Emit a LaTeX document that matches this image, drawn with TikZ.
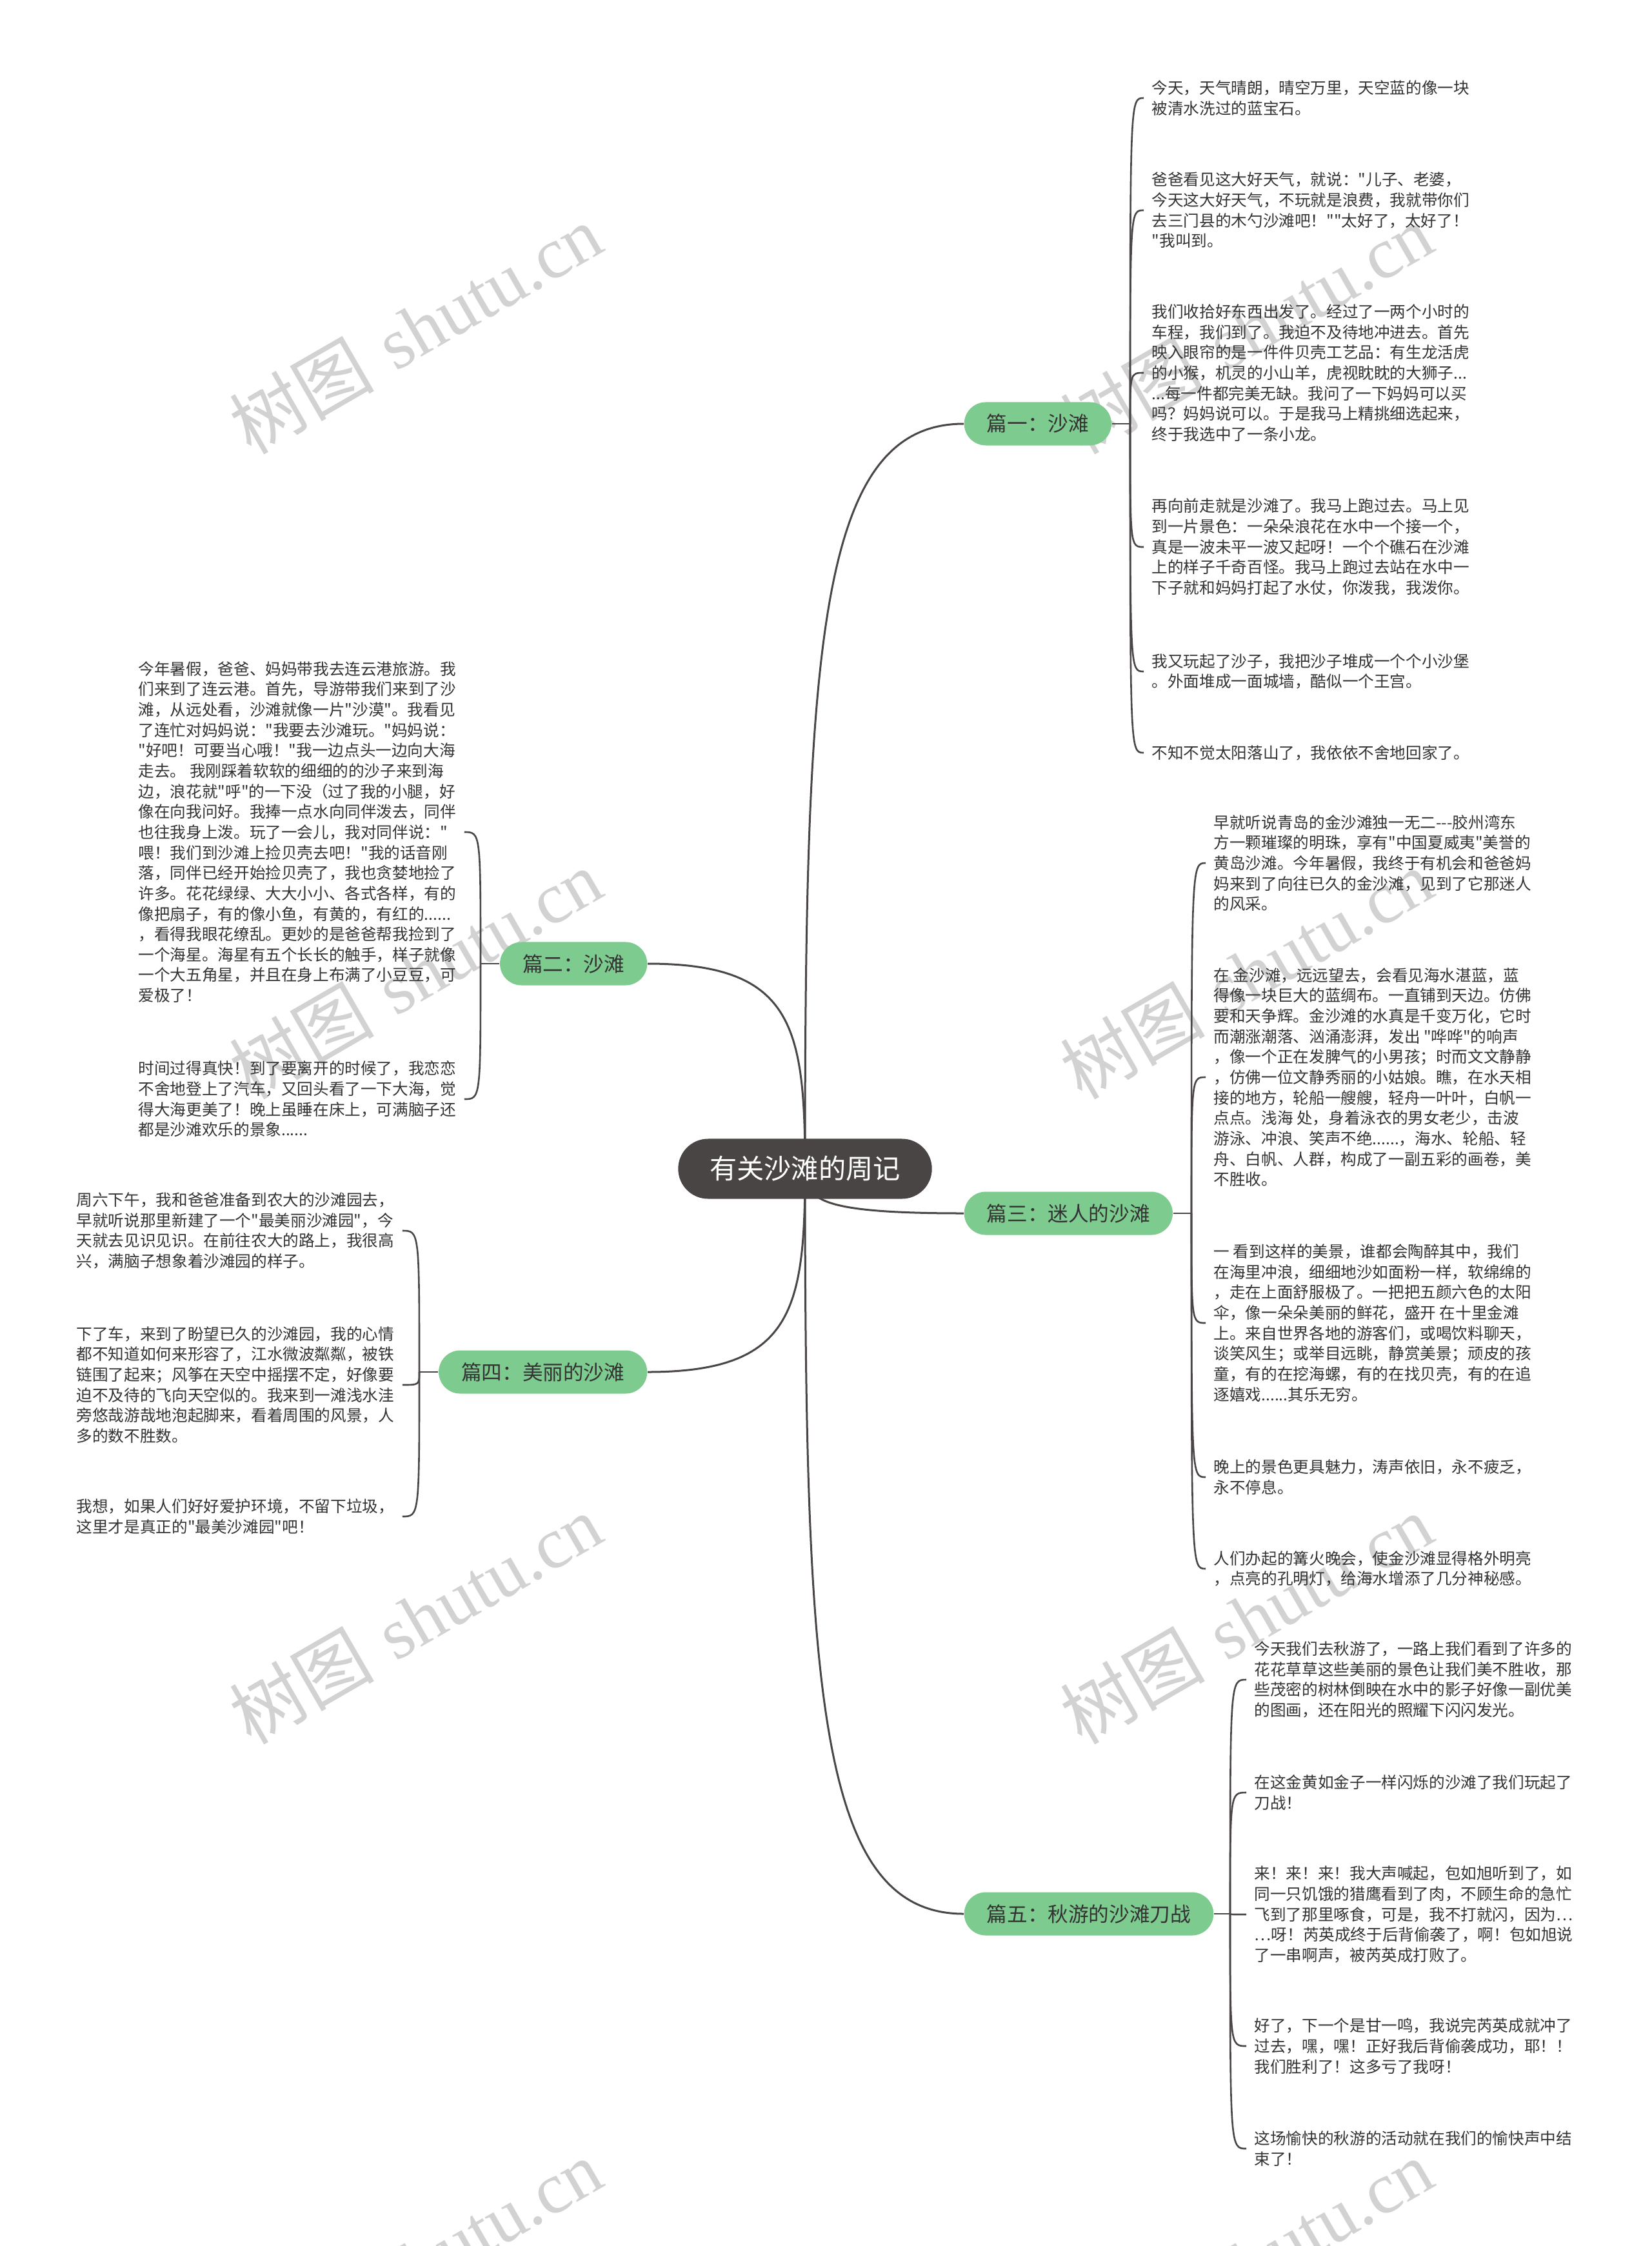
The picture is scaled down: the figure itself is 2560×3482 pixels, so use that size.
\documentclass[tikz,border=0pt]{standalone}
\usepackage{fontspec}
\newfontfamily\cjk{Noto Sans CJK SC}
\newfontfamily\wmserif{Liberation Serif}
\usetikzlibrary{backgrounds}
\definecolor{linegray}{HTML}{4A4646}
\definecolor{rootgray}{HTML}{4A4545}
\definecolor{branchgreen}{HTML}{7ECB8F}
\definecolor{leaftext}{HTML}{333333}
\definecolor{wmgray}{HTML}{D2D2D2}

\begin{document}
\begin{tikzpicture}[x=0.01cm, y=-0.01cm,
  root/.style={fill=rootgray, text=white, rounded corners=0.465cm, minimum height=0.93cm, inner xsep=0.49cm, font=\cjk\fontsize{12pt}{14pt}\selectfont},
  branch/.style={fill=branchgreen, text=leaftext, rounded corners=0.335cm, minimum height=0.67cm, inner xsep=0.35cm, font=\cjk\fontsize{9pt}{11pt}\selectfont},
  leaf/.style={anchor=west, align=left, text=leaftext, inner xsep=0.12cm, inner ysep=0.04cm, font=\cjk\fontsize{7pt}{9pt}\selectfont},
  mainline/.style={draw=linegray, line width=0.03cm},
  leafline/.style={draw=linegray, line width=0.026cm},
  wm/.style={rotate=30, text=wmgray, font=\fontsize{32pt}{36pt}\selectfont}]
\useasboundingbox (0,0) rectangle (2560,3482);

% centre and the five chapters
\node[root] (root) at (1248,1812) {有关沙滩的周记};
\node[branch, anchor=west] (b1) at (1494,657) {篇一：沙滩};
\node[branch, anchor=east] (b2) at (1004,1494) {篇二：沙滩};
\node[branch, anchor=west] (b3) at (1494,1881) {篇三：迷人的沙滩};
\node[branch, anchor=east] (b4) at (1004,2127) {篇四：美丽的沙滩};
\node[branch, anchor=west] (b5) at (1494,2967) {篇五：秋游的沙滩刀战};

% 篇一
\node[leaf] (l11) at (1773,152) {今天，天气晴朗，晴空万里，天空蓝的像一块\\被清水洗过的蓝宝石。};
\node[leaf] (l12) at (1773,326) {爸爸看见这大好天气，就说："儿子、老婆，\\今天这大好天气，不玩就是浪费，我就带你们\\去三门县的木勺沙滩吧！""太好了，太好了！\\"我叫到。};
\node[leaf] (l13) at (1773,578) {我们收拾好东西出发了。经过了一两个小时的\\车程，我们到了。我迫不及待地冲进去。首先\\映入眼帘的是一件件贝壳工艺品：有生龙活虎\\的小猴，机灵的小山羊，虎视眈眈的大狮子...\\...每一件都完美无缺。我问了一下妈妈可以买\\吗？妈妈说可以。于是我马上精挑细选起来，\\终于我选中了一条小龙。};
\node[leaf] (l14) at (1773,848) {再向前走就是沙滩了。我马上跑过去。马上见\\到一片景色：一朵朵浪花在水中一个接一个，\\真是一波未平一波又起呀！一个个礁石在沙滩\\上的样子千奇百怪。我马上跑过去站在水中一\\下子就和妈妈打起了水仗，你泼我，我泼你。};
\node[leaf] (l15) at (1773,1041) {我又玩起了沙子，我把沙子堆成一个个小沙堡\\。外面堆成一面城墙，酷似一个王宫。};
\node[leaf] (l16) at (1773,1167) {不知不觉太阳落山了，我依依不舍地回家了。};

% 篇二
\node[leaf] (l21) at (202,1290) {今年暑假，爸爸、妈妈带我去连云港旅游。我\\们来到了连云港。首先，导游带我们来到了沙\\滩，从远处看，沙滩就像一片"沙漠"。我看见\\了连忙对妈妈说："我要去沙滩玩。"妈妈说：\\"好吧！可要当心哦！"我一边点头一边向大海\\走去。 我刚踩着软软的细细的的沙子来到海\\边，浪花就"呼"的一下没（过了我的小腿，好\\像在向我问好。我捧一点水向同伴泼去，同伴\\也往我身上泼。玩了一会儿，我对同伴说："\\喂！我们到沙滩上捡贝壳去吧！"我的话音刚\\落，同伴已经开始捡贝壳了，我也贪婪地捡了\\许多。花花绿绿、大大小小、各式各样，有的\\像把扇子，有的像小鱼，有黄的，有红的......\\，看得我眼花缭乱。更妙的是爸爸帮我捡到了\\一个海星。海星有五个长长的触手，样子就像\\一个大五角星，并且在身上布满了小豆豆，可\\爱极了！};
\node[leaf] (l22) at (202,1704) {时间过得真快！到了要离开的时候了，我恋恋\\不舍地登上了汽车，又回头看了一下大海，觉\\得大海更美了！晚上虽睡在床上，可满脑子还\\都是沙滩欢乐的景象......};

% 篇三
\node[leaf] (l31) at (1869,1338) {早就听说青岛的金沙滩独一无二---胶州湾东\\方一颗璀璨的明珠，享有"中国夏威夷"美誉的\\黄岛沙滩。今年暑假，我终于有机会和爸爸妈\\妈来到了向往已久的金沙滩，见到了它那迷人\\的风采。};
\node[leaf] (l32) at (1869,1670) {在 金沙滩，远远望去，会看见海水湛蓝，蓝\\得像一块巨大的蓝绸布。一直铺到天边。仿佛\\要和天争辉。金沙滩的水真是千变万化，它时\\而潮涨潮落、汹涌澎湃，发出 "哗哗"的响声\\，像一个正在发脾气的小男孩；时而文文静静\\，仿佛一位文静秀丽的小姑娘。瞧，在水天相\\接的地方，轮船一艘艘，轻舟一叶叶，白帆一\\点点。浅海 处，身着泳衣的男女老少，击波\\游泳、冲浪、笑声不绝......，海水、轮船、轻\\舟、白帆、人群，构成了一副五彩的画卷，美\\不胜收。};
\node[leaf] (l33) at (1869,2051) {一 看到这样的美景，谁都会陶醉其中，我们\\在海里冲浪，细细地沙如面粉一样，软绵绵的\\，走在上面舒服极了。一把把五颜六色的太阳\\伞，像一朵朵美丽的鲜花，盛开 在十里金滩\\上。来自世界各地的游客们，或喝饮料聊天，\\谈笑风生；或举目远眺，静赏美景；顽皮的孩\\童，有的在挖海螺，有的在找贝壳，有的在追\\逐嬉戏......其乐无穷。};
\node[leaf] (l34) at (1869,2290) {晚上的景色更具魅力，涛声依旧，永不疲乏，\\永不停息。};
\node[leaf] (l35) at (1869,2432) {人们办起的篝火晚会，使金沙滩显得格外明亮\\，点亮的孔明灯，给海水增添了几分神秘感。};

% 篇四
\node[leaf] (l41) at (106,1908) {周六下午，我和爸爸准备到农大的沙滩园去，\\早就听说那里新建了一个"最美丽沙滩园"，今\\天就去见识见识。在前往农大的路上，我很高\\兴，满脑子想象着沙滩园的样子。};
\node[leaf] (l42) at (106,2147) {下了车，来到了盼望已久的沙滩园，我的心情\\都不知道如何来形容了，江水微波粼粼，被铁\\链围了起来；风筝在天空中摇摆不定，好像要\\迫不及待的飞向天空似的。我来到一滩浅水洼\\旁悠哉游哉地泡起脚来，看着周围的风景，人\\多的数不胜数。};
\node[leaf] (l43) at (106,2351) {我想，如果人们好好爱护环境，不留下垃圾，\\这里才是真正的"最美沙滩园"吧！};

% 篇五
\node[leaf] (l51) at (1932,2604) {今天我们去秋游了，一路上我们看到了许多的\\花花草草这些美丽的景色让我们美不胜收，那\\些茂密的树林倒映在水中的影子好像一副优美\\的图画，还在阳光的照耀下闪闪发光。};
\node[leaf] (l52) at (1932,2779) {在这金黄如金子一样闪烁的沙滩了我们玩起了\\刀战！};
\node[leaf] (l53) at (1932,2968) {来！来！来！我大声喊起，包如旭听到了，如\\同一只饥饿的猎鹰看到了肉，不顾生命的急忙\\飞到了那里啄食，可是，我不打就闪，因为…\\…呀！芮英成终于后背偷袭了，啊！包如旭说\\了一串啊声，被芮英成打败了。};
\node[leaf] (l54) at (1932,3172) {好了，下一个是甘一鸣，我说完芮英成就冲了\\过去，嘿，嘿！正好我后背偷袭成功，耶！！\\我们胜利了！这多亏了我呀！};
\node[leaf] (l55) at (1932,3331) {这场愉快的秋游的活动就在我们的愉快声中结\\束了！};

\begin{scope}[on background layer]
\clip (0,0) rectangle (2560,3482);
\fill[white] (0,0) rectangle (2560,3482);
% watermark
\node[wm] (wm1) at (644,510) {{\cjk 树图} {\wmserif shutu.cn}};
\node[wm] (wm2) at (1932,510) {{\cjk 树图} {\wmserif shutu.cn}};
\node[wm] (wm3) at (644,1510) {{\cjk 树图} {\wmserif shutu.cn}};
\node[wm] (wm4) at (1932,1510) {{\cjk 树图} {\wmserif shutu.cn}};
\node[wm] (wm5) at (644,2510) {{\cjk 树图} {\wmserif shutu.cn}};
\node[wm] (wm6) at (1932,2510) {{\cjk 树图} {\wmserif shutu.cn}};
\node[wm] (wm7) at (644,3510) {{\cjk 树图} {\wmserif shutu.cn}};
\node[wm] (wm8) at (1932,3510) {{\cjk 树图} {\wmserif shutu.cn}};

% centre to chapters
\draw[mainline] (root.center) .. controls (1248,1004) and (1268,657) .. (b1.west);
\draw[mainline] (root.center) .. controls (1248,1589) and (1228,1494) .. (b2.east);
\draw[mainline] (root.center) .. controls (1248,1860) and (1268,1881) .. (b3.west);
\draw[mainline] (root.center) .. controls (1248,2032) and (1228,2127) .. (b4.east);
\draw[mainline] (root.center) .. controls (1248,2620) and (1268,2967) .. (b5.west);

% chapters to paragraphs
\coordinate (s1) at (1752,657);
\coordinate (s2) at (745,1494);
\coordinate (s3) at (1847,1881);
\coordinate (s4) at (650,2127);
\coordinate (s5) at (1907,2967);
\draw[leafline] (b1.east) -- (s1);
\draw[leafline] (b2.west) -- (s2);
\draw[leafline] (b3.east) -- (s3);
\draw[leafline] (b4.west) -- (s4);
\draw[leafline] (b5.east) -- (s5);
\draw[leafline] (s1) .. controls (s1 |- l11.west) .. (l11.west);
\draw[leafline] (s1) .. controls (s1 |- l12.west) .. (l12.west);
\draw[leafline] (s1) .. controls (s1 |- l13.west) .. (l13.west);
\draw[leafline] (s1) .. controls (s1 |- l14.west) .. (l14.west);
\draw[leafline] (s1) .. controls (s1 |- l15.west) .. (l15.west);
\draw[leafline] (s1) .. controls (s1 |- l16.west) .. (l16.west);
\draw[leafline] (s2) .. controls (s2 |- l21.east) .. (l21.east);
\draw[leafline] (s2) .. controls (s2 |- l22.east) .. (l22.east);
\draw[leafline] (s3) .. controls (s3 |- l31.west) .. (l31.west);
\draw[leafline] (s3) .. controls (s3 |- l32.west) .. (l32.west);
\draw[leafline] (s3) .. controls (s3 |- l33.west) .. (l33.west);
\draw[leafline] (s3) .. controls (s3 |- l34.west) .. (l34.west);
\draw[leafline] (s3) .. controls (s3 |- l35.west) .. (l35.west);
\draw[leafline] (s4) .. controls (s4 |- l41.east) .. (l41.east);
\draw[leafline] (s4) .. controls (s4 |- l42.east) .. (l42.east);
\draw[leafline] (s4) .. controls (s4 |- l43.east) .. (l43.east);
\draw[leafline] (s5) .. controls (s5 |- l51.west) .. (l51.west);
\draw[leafline] (s5) .. controls (s5 |- l52.west) .. (l52.west);
\draw[leafline] (s5) .. controls (s5 |- l53.west) .. (l53.west);
\draw[leafline] (s5) .. controls (s5 |- l54.west) .. (l54.west);
\draw[leafline] (s5) .. controls (s5 |- l55.west) .. (l55.west);
\end{scope}
\end{tikzpicture}
\end{document}
